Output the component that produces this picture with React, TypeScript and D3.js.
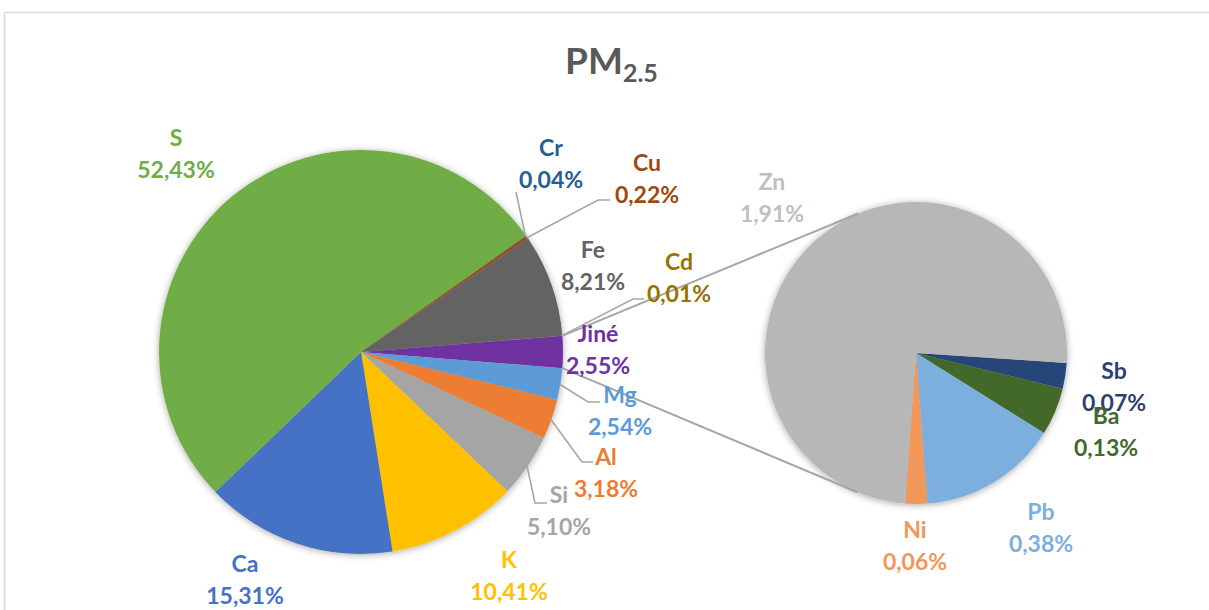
import React from "react";
import * as d3 from "d3";

// ---- data ----
const mainLabels = ["Jiné", "Mg", "Al", "Si", "K", "Ca", "S", "Cr", "Cu", "Fe", "Cd"];
const mainValues = [2.55, 2.54, 3.18, 5.1, 10.41, 15.31, 52.43, 0.04, 0.22, 8.21, 0.01];
const subLabels = ["Sb", "Ba", "Pb", "Ni", "Zn"];
const subValues = [0.07, 0.13, 0.38, 0.06, 1.91];
const titleMain = "PM";
const titleSub = "2.5";

// ---- styles ----
const fillColor: Record<string, string> = {
  "Jiné": "#7030A0", Mg: "#5B9BD5", Al: "#ED7D31", Si: "#A5A5A5", K: "#FFC000",
  Ca: "#4472C4", S: "#70AD47", Cr: "#264478", Cu: "#9E480E", Fe: "#636363", Cd: "#997300",
  Sb: "#264478", Ba: "#43682B", Pb: "#7CAFDD", Ni: "#F1975A", Zn: "#B7B7B7",
};
const textColor: Record<string, string> = {
  ...fillColor, Cr: "#255E91", Zn: "#BFBFBF", Sb: "#2F3F70", Si: "#A5A5A5",
};
// label centre x and first baseline y
const labelPos: Record<string, [number, number]> = {
  S: [176, 146], Cr: [551, 156], Cu: [647, 171], Fe: [593, 258], Cd: [679, 270],
  "Jiné": [598, 342], Mg: [620, 403], Al: [606, 465], Si: [559, 503], K: [509, 568],
  Ca: [245, 572], Zn: [772, 190], Sb: [1114, 379], Ba: [1106, 424], Pb: [1041, 520], Ni: [915, 538],
};
// leader line bends/ends (elbow then end)
const leaderEnds: Record<string, [number, number][]> = {
  Cr: [[516, 192]],
  Cu: [[598, 200], [610, 200]],
  Cd: [[633, 299], [644, 299]],
  Mg: [[588, 402], [600, 402]],
  Al: [[582, 462], [593, 462]],
  Si: [[535, 503], [547, 503]],
};

const W = 1209, H = 610;
const mainC: [number, number] = [361, 352];
const mainR = 202;
const subC: [number, number] = [916, 353];
const subR = 151;
const deg = Math.PI / 180;

export default function App() {
  const mainTotal = d3.sum(mainValues);
  const otherAngle = (mainValues[0] / mainTotal) * 2 * Math.PI;
  const mainStart = Math.PI / 2 - otherAngle / 2;
  const mainPie = d3.pie<number>().sort(null).value((d) => d)
    .startAngle(mainStart).endAngle(mainStart + 2 * Math.PI);
  const mainArcs = mainPie(mainValues);
  const subStart = 93.8 * deg;
  const subPie = d3.pie<number>().sort(null).value((d) => d)
    .startAngle(subStart).endAngle(subStart + 2 * Math.PI);
  const subArcs = subPie(subValues);

  const arcMain = d3.arc<d3.PieArcDatum<number>>().innerRadius(0).outerRadius(mainR);
  const arcSub = d3.arc<d3.PieArcDatum<number>>().innerRadius(0).outerRadius(subR);

  const polar = (c: [number, number], r: number, a: number): [number, number] => [
    c[0] + r * Math.sin(a), c[1] - r * Math.cos(a),
  ];

  // connector lines: from edges of "Jiné" slice tangent to the secondary pie
  const other = mainArcs[0];
  const pTop = polar(mainC, mainR, other.startAngle);
  const pBot = polar(mainC, mainR, other.endAngle);
  const tangent = (p: [number, number], upper: boolean): [number, number] => {
    const vx = p[0] - subC[0], vy = p[1] - subC[1];
    const d = Math.hypot(vx, vy);
    const base = Math.atan2(vy, vx);
    const t = Math.acos(subR / d);
    const a1 = base + t, a2 = base - t;
    const q1: [number, number] = [subC[0] + subR * Math.cos(a1), subC[1] + subR * Math.sin(a1)];
    const q2: [number, number] = [subC[0] + subR * Math.cos(a2), subC[1] + subR * Math.sin(a2)];
    return upper ? (q1[1] < q2[1] ? q1 : q2) : (q1[1] > q2[1] ? q1 : q2);
  };
  const tTop = tangent(pTop, true);
  const tBot = tangent(pBot, false);

  const fmt = (v: number) => v.toFixed(2).replace(".", ",") + "%";
  const font = "Lato, 'Open Sans', sans-serif";

  const labels = [
    ...mainLabels.map((l, i) => ({ l, v: mainValues[i] })),
    ...subLabels.map((l, i) => ({ l, v: subValues[i] })),
  ];

  return (
    <svg width={W} height={H} style={{ position: "absolute", left: 0, top: 0 }} fontFamily={font}>
      <defs>
        <filter id="shadow" x="-20%" y="-20%" width="140%" height="140%">
          <feDropShadow dx="0" dy="1" stdDeviation="3.5" floodColor="#000" floodOpacity="0.35" />
        </filter>
      </defs>
      <rect x={0} y={0} width={W} height={H} fill="#fff" />
      <rect x={4.5} y={12.5} width={W + 20} height={H + 20} fill="#fff" stroke="#D9D9D9" strokeWidth={1.5} />
      <text x={565} y={74} fontSize={37} fontWeight={700} fill="#595959">
        {titleMain}
        <tspan fontSize={25} dy={8}>{titleSub}</tspan>
      </text>

      <g transform={`translate(${mainC[0]},${mainC[1]})`} filter="url(#shadow)">
        {mainArcs.map((a, i) => (
          <path key={mainLabels[i]} d={arcMain(a) || ""} fill={fillColor[mainLabels[i]]} />
        ))}
      </g>
      <g transform={`translate(${subC[0]},${subC[1]})`} filter="url(#shadow)">
        {subArcs.map((a, i) => (
          <path key={subLabels[i]} d={arcSub(a) || ""} fill={fillColor[subLabels[i]]} />
        ))}
      </g>

      <g stroke="#A6A6A6" strokeWidth={2} fill="none">
        <line x1={pTop[0]} y1={pTop[1]} x2={tTop[0]} y2={tTop[1]} />
        <line x1={pBot[0]} y1={pBot[1]} x2={tBot[0]} y2={tBot[1]} />
      </g>

      <g stroke="#A6A6A6" strokeWidth={1.6} fill="none">
        {mainLabels.map((l, i) => {
          const ends = leaderEnds[l];
          if (!ends) return null;
          const a = mainArcs[i];
          const start = polar(mainC, mainR - 1, (a.startAngle + a.endAngle) / 2);
          const pts = [start, ...ends];
          return <path key={l} d={d3.line()(pts) || ""} />;
        })}
      </g>

      <g fontWeight={700} fontSize={23} textAnchor="middle">
        {labels.map(({ l, v }) => {
          const p = labelPos[l];
          return (
            <text key={l} x={p[0]} y={p[1]} fill={textColor[l]}>
              <tspan x={p[0]}>{l}</tspan>
              <tspan x={p[0]} dy={32}>{fmt(v)}</tspan>
            </text>
          );
        })}
      </g>
    </svg>
  );
}
